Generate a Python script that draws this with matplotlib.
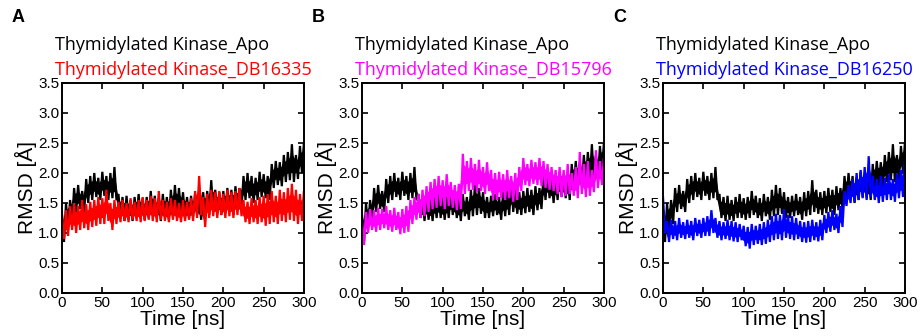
import numpy as np
import matplotlib
matplotlib.use("Agg")
import matplotlib.pyplot as plt

plt.rcParams["font.family"] = ["Liberation Sans", "DejaVu Sans"]

# time grid of the read-off values (ns)
time_ns = list(range(0, 301, 5))

# upper / lower edge of each noisy RMSD band, read every 5 ns
apo_hi = [1.30, 1.50, 1.55, 1.75, 1.80, 1.70, 1.90, 1.95, 2.00, 1.92, 2.02, 1.95, 2.00, 2.10,
          1.65, 1.60, 1.62, 1.55, 1.60, 1.65, 1.58, 1.60, 1.70, 1.62, 1.58, 1.65, 1.60, 1.72,
          1.80, 1.75, 1.68, 1.60, 1.62, 1.65, 1.60, 1.68, 1.70, 1.88, 1.72, 1.68, 1.70, 1.75,
          1.72, 1.78, 1.75, 1.95, 2.00, 1.95, 1.92, 2.02, 1.98, 1.95, 2.15, 2.20, 2.18, 2.30,
          2.35, 2.48, 2.30, 2.45, 2.50]
apo_lo = [0.85, 1.05, 1.15, 1.35, 1.40, 1.35, 1.50, 1.55, 1.60, 1.55, 1.62, 1.55, 1.58, 1.55,
          1.25, 1.20, 1.22, 1.20, 1.25, 1.25, 1.22, 1.25, 1.30, 1.25, 1.20, 1.28, 1.22, 1.28,
          1.30, 1.32, 1.25, 1.25, 1.28, 1.30, 1.22, 1.28, 1.30, 1.35, 1.32, 1.30, 1.33, 1.35,
          1.30, 1.38, 1.40, 1.55, 1.58, 1.50, 1.55, 1.60, 1.58, 1.55, 1.75, 1.80, 1.78, 1.85,
          1.88, 1.85, 1.90, 2.00, 2.05]

db16335_hi = [1.30, 1.38, 1.45, 1.50, 1.45, 1.55, 1.48, 1.52, 1.55, 1.60, 1.58, 1.72, 1.50, 1.55,
              1.52, 1.55, 1.50, 1.58, 1.52, 1.55, 1.60, 1.55, 1.62, 1.58, 1.70, 1.55, 1.52, 1.58,
              1.55, 1.50, 1.55, 1.52, 1.58, 1.70, 1.95, 1.60, 1.65, 1.72, 1.68, 1.70, 1.65, 1.72,
              1.68, 1.70, 1.75, 1.55, 1.52, 1.58, 1.55, 1.60, 1.62, 1.65, 1.70, 1.62, 1.72, 1.68,
              1.75, 1.82, 1.72, 1.65, 1.70]
db16335_lo = [0.90, 0.95, 1.05, 1.00, 1.05, 1.08, 1.05, 1.10, 1.12, 1.15, 1.15, 1.20, 1.05, 1.15,
              1.18, 1.20, 1.18, 1.22, 1.20, 1.18, 1.20, 1.22, 1.20, 1.18, 1.22, 1.20, 1.18, 1.22,
              1.20, 1.18, 1.20, 1.22, 1.20, 1.25, 1.30, 1.10, 1.25, 1.28, 1.25, 1.30, 1.25, 1.28,
              1.25, 1.30, 1.28, 1.18, 1.15, 1.18, 1.15, 1.18, 1.12, 1.15, 1.18, 1.15, 1.20, 1.18,
              1.22, 1.20, 1.15, 1.20, 1.25]

db15796_hi = [1.20, 1.35, 1.40, 1.38, 1.42, 1.40, 1.45, 1.38, 1.42, 1.35, 1.40, 1.45, 1.55, 1.60,
              1.65, 1.72, 1.78, 1.85, 1.90, 1.95, 1.88, 1.98, 1.85, 1.80, 1.82, 2.32, 2.20, 2.25,
              2.15, 2.22, 2.10, 2.18, 2.05, 2.00, 2.02, 1.98, 2.05, 1.95, 2.00, 2.10, 2.25, 2.15,
              2.22, 2.18, 2.25, 2.20, 2.15, 2.10, 2.05, 2.10, 2.05, 2.15, 2.00, 2.10, 2.35, 2.15,
              2.20, 2.05, 2.38, 2.20, 2.25]
db15796_lo = [0.80, 1.00, 1.05, 1.02, 1.05, 1.08, 1.05, 1.02, 1.05, 0.98, 1.00, 1.02, 1.15, 1.22,
              1.25, 1.28, 1.35, 1.40, 1.42, 1.45, 1.40, 1.45, 1.42, 1.38, 1.40, 1.65, 1.70, 1.72,
              1.68, 1.70, 1.65, 1.70, 1.55, 1.55, 1.58, 1.55, 1.58, 1.52, 1.55, 1.70, 1.80, 1.78,
              1.82, 1.80, 1.78, 1.75, 1.72, 1.70, 1.65, 1.60, 1.62, 1.65, 1.62, 1.58, 1.65, 1.60,
              1.62, 1.68, 1.75, 1.80, 1.85]

db16250_hi = [1.60, 1.20, 1.22, 1.20, 1.25, 1.18, 1.22, 1.20, 1.25, 1.22, 1.25, 1.28, 1.38, 1.25,
              1.20, 1.18, 1.22, 1.20, 1.18, 1.15, 1.12, 1.10, 1.15, 1.12, 1.15, 1.18, 1.22, 1.28,
              1.32, 1.30, 1.40, 1.30, 1.28, 1.25, 1.20, 1.18, 1.20, 1.22, 1.18, 1.22, 1.30, 1.35,
              1.38, 1.32, 1.45, 1.70, 1.80, 1.90, 2.00, 2.05, 2.10, 2.28, 1.95, 1.90, 1.95, 1.92,
              1.98, 1.90, 2.00, 2.05, 2.20]
db16250_lo = [1.00, 0.85, 0.90, 0.88, 0.92, 0.90, 0.92, 0.88, 0.95, 0.92, 0.95, 0.95, 1.00, 0.92,
              0.88, 0.90, 0.88, 0.86, 0.85, 0.88, 0.78, 0.74, 0.80, 0.82, 0.80, 0.82, 0.85, 0.88,
              0.90, 0.88, 0.92, 0.90, 0.88, 0.90, 0.85, 0.84, 0.85, 0.88, 0.86, 0.88, 1.00, 1.02,
              1.05, 1.00, 1.10, 1.45, 1.50, 1.52, 1.55, 1.58, 1.55, 1.60, 1.55, 1.50, 1.52, 1.55,
              1.55, 1.52, 1.58, 1.60, 1.70]

panel_letters = ["A", "B", "C"]
ligand_names = ["Thymidylated Kinase_DB16335", "Thymidylated Kinase_DB15796",
                "Thymidylated Kinase_DB16250"]
ligand_hi = [db16335_hi, db15796_hi, db16250_hi]
ligand_lo = [db16335_lo, db15796_lo, db16250_lo]
ligand_colors = ["#ff0000", "#ff00ff", "#0000ff"]


def trace(hi, lo):
    # alternate the upper and lower edge to get the jagged MD-trace look
    t = np.asarray(time_ns, dtype=float)
    x = np.empty(2 * len(t))
    y = np.empty(2 * len(t))
    x[0::2], y[0::2] = t, hi
    x[1::2], y[1::2] = np.minimum(t + 2.5, 300), lo
    return x, y


def draw_band(ax, hi, lo, color):
    hi = np.asarray(hi)
    lo = np.asarray(lo)
    pad = 0.25 * (hi - lo)
    ax.fill_between(time_ns, lo + pad, hi - pad, color=color, lw=0)
    x, y = trace(hi, lo)
    ax.plot(x, y, color=color, lw=1.6, solid_joinstyle="miter")


fig = plt.figure(figsize=(9.21, 3.36), dpi=100)
lefts = [62, 362, 663]

for i in range(3):
    ax = fig.add_axes([lefts[i] / 921, 1 - 293 / 336, 242 / 921, 210 / 336])
    draw_band(ax, apo_hi, apo_lo, "black")
    draw_band(ax, ligand_hi[i], ligand_lo[i], ligand_colors[i])

    ax.set_xlim(0, 300)
    ax.set_ylim(0, 3.5)
    ax.set_xticks(range(0, 301, 50))
    ax.set_yticks(np.arange(0, 3.51, 0.5))
    ax.set_yticklabels(["%.1f" % v for v in np.arange(0, 3.51, 0.5)])
    ax.tick_params(direction="in", top=True, right=True, length=4, width=1.2,
                   labelsize=11, pad=2)
    for s in ax.spines.values():
        s.set_linewidth(1.4)
    ax.set_xlabel("Time [ns]", fontsize=15, labelpad=0)
    ax.set_ylabel("RMSD [Å]", fontsize=15, labelpad=1)

    x0 = lefts[i] - 7
    fig.text((lefts[i] - 50) / 921, 1 - 18 / 336, panel_letters[i], fontsize=13,
             fontweight="bold", va="center")
    fig.text(x0 / 921, 1 - 45 / 336, "Thymidylated Kinase_Apo", fontsize=13,
             family="Open Sans", color="black", va="center")
    fig.text(x0 / 921, 1 - 70 / 336, ligand_names[i], fontsize=13,
             family="Open Sans", color=ligand_colors[i], va="center")

fig.savefig("out.png", dpi=100)
